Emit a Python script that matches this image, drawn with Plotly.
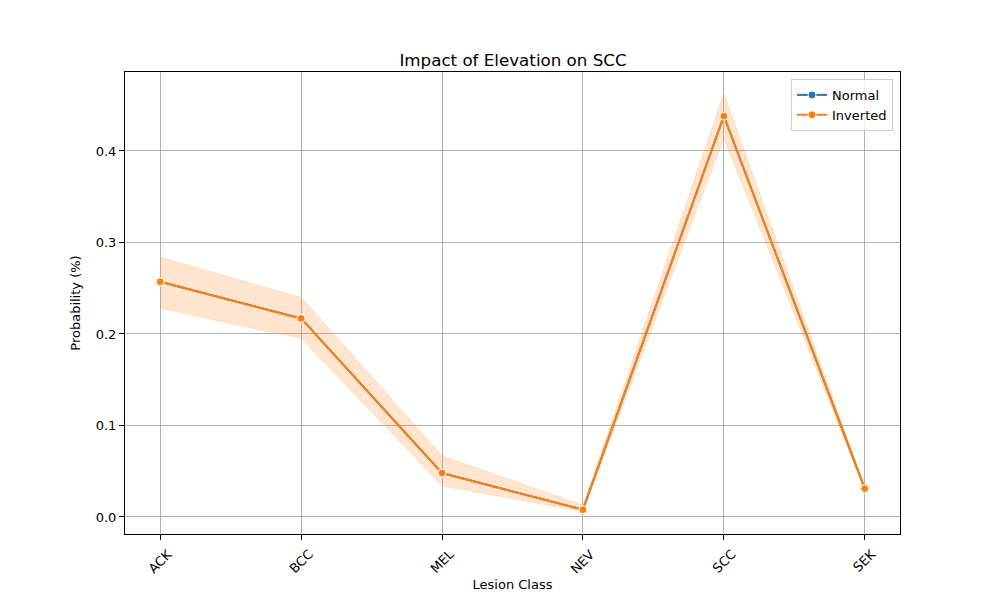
import plotly.graph_objects as go

# lesion classes on the x axis
classes = ['ACK', 'BCC', 'MEL', 'NEV', 'SCC', 'SEK']

# mean probability per class (both series sit on top of each other)
normal_mean = [0.257, 0.217, 0.048, 0.008, 0.438, 0.031]
inverted_mean = [0.257, 0.217, 0.048, 0.008, 0.438, 0.031]

# confidence band of the inverted series
inverted_low = [0.228, 0.195, 0.034, 0.006, 0.414, 0.029]
inverted_high = [0.284, 0.240, 0.067, 0.013, 0.463, 0.033]

y_ticks = [0.0, 0.1, 0.2, 0.3, 0.4]

blue = '#1f77b4'
orange = '#ff7f0e'

fig = go.Figure()

# band (upper then lower, filled between)
fig.add_trace(go.Scatter(x=classes, y=inverted_high, mode='lines',
                         line=dict(width=0.8, color='rgba(255,127,14,0.2)'),
                         showlegend=False, hoverinfo='skip'))
fig.add_trace(go.Scatter(x=classes, y=inverted_low, mode='lines', fill='tonexty',
                         fillcolor='rgba(255,127,14,0.2)',
                         line=dict(width=0.8, color='rgba(255,127,14,0.2)'),
                         showlegend=False, hoverinfo='skip'))

fig.add_trace(go.Scatter(x=classes, y=normal_mean, mode='lines+markers', name='Normal',
                         line=dict(color=blue, width=2),
                         marker=dict(size=8, color=blue, line=dict(color='white', width=1))))
fig.add_trace(go.Scatter(x=classes, y=inverted_mean, mode='lines+markers', name='Inverted',
                         line=dict(color=orange, width=2),
                         marker=dict(size=8, color=orange, line=dict(color='white', width=1))))

axis_common = dict(showgrid=True, gridcolor='#b0b0b0', gridwidth=1,
                   showline=True, linecolor='black', linewidth=1, mirror=True,
                   ticks='outside', ticklen=5, tickcolor='black', zeroline=False)

# x tick labels are hidden and redrawn as rotated annotations centred on the ticks,
# the way matplotlib rotates them
fig.update_xaxes(range=[-0.25, 5.25], tickangle=-45,
                 tickfont=dict(size=13, color='rgba(0,0,0,0)'),
                 title=dict(text='Lesion Class', font=dict(size=13, color='black'), standoff=6),
                 **axis_common)
fig.update_yaxes(range=[-0.0186, 0.4863], tickvals=y_ticks, tickformat='.1f',
                 tickfont=dict(size=13, color='black'),
                 title=dict(text='Probability (%)', font=dict(size=13, color='black'), standoff=12),
                 **axis_common)

for c in classes:
    fig.add_annotation(x=c, xref='x', y=0, yref='paper', text=c, showarrow=False,
                       textangle=-45, yanchor='top', xanchor='center', yshift=-10,
                       font=dict(size=13, color='black'))

# the page body adds an 8px offset, margins compensate for it
fig.update_layout(
    width=1000, height=600,
    margin=dict(l=117, r=108, t=64, b=74),
    paper_bgcolor='white', plot_bgcolor='white',
    font=dict(family='DejaVu Sans', color='black'),
    title=dict(text='Impact of Elevation on SCC', x=0.505, xanchor='center',
               y=0.903, yanchor='bottom', font=dict(size=16.7, color='black')),
    legend=dict(x=0.991, y=0.985, xanchor='right', yanchor='top', traceorder='normal',
                bgcolor='rgba(255,255,255,0.8)', bordercolor='#cccccc', borderwidth=1,
                font=dict(size=13, color='black')),
)

fig.write_html("out.html")
